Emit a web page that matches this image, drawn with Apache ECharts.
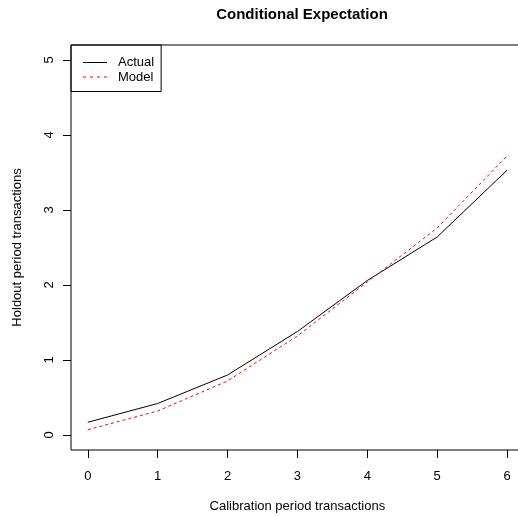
<!DOCTYPE html>
<html>
<head>
<meta charset="utf-8">
<script src="https://cdn.jsdelivr.net/npm/echarts@6/dist/echarts.min.js"></script>
<style>html,body{margin:0;padding:0;background:#fff;}#c{width:518px;height:516px;}</style>
</head>
<body>
<div id="c"></div>
<script>
const xValues = [0, 1, 2, 3, 4, 5, 6];
const actual = [0.17, 0.42, 0.80, 1.38, 2.06, 2.64, 3.53];
const model = [0.07, 0.32, 0.72, 1.32, 2.04, 2.76, 3.72];
const xTicks = [0, 1, 2, 3, 4, 5, 6];
const yTicks = [0, 1, 2, 3, 4, 5];

const font = 'Liberation Sans, Arial, Helvetica, sans-serif';
const solidIcon = 'path://M0,0h24v1h-24z';
const dashIcon = 'path://M0,0h3v1h-3zM7,0h3v1h-3zM14,0h3v1h-3zM21,0h3v1h-3z';
const chart = echarts.init(document.getElementById('c'));
chart.setOption({
  animation: false,
  backgroundColor: '#fff',
  title: {
    text: 'Conditional Expectation',
    left: 297, top: 2, textAlign: 'center',
    textStyle: {fontFamily: font, fontSize: 15, fontWeight: 'bold', color: '#000'}
  },
  legend: {
    orient: 'vertical', left: 71, top: 45,
    padding: [11, 7, 8, 12],
    borderColor: '#000', borderWidth: 1,
    itemWidth: 24, itemHeight: 14, itemGap: 1.5,
    textStyle: {fontFamily: font, fontSize: 13, color: '#000', padding: [0, 0, 0, 6]},
    data: [
      {name: 'Actual', icon: solidIcon, itemStyle: {color: '#000'}},
      {name: 'Model', icon: dashIcon, itemStyle: {color: '#ff0000'}}
    ]
  },
  grid: {
    left: 71, top: 45, width: 452.8, height: 405,
    outerBoundsMode: 'none', containLabel: false,
    show: true, borderColor: '#000', borderWidth: 1, backgroundColor: 'transparent'
  },
  xAxis: {
    type: 'value', min: -0.24, max: 6.24,
    name: 'Calibration period transactions', nameLocation: 'middle', nameGap: 50,
    nameTextStyle: {fontFamily: font, fontSize: 13, color: '#000'},
    axisLine: {show: false, onZero: false},
    splitLine: {show: false},
    axisTick: {show: true, inside: false, length: 8, lineStyle: {color: '#000'}, customValues: xTicks},
    axisLabel: {fontFamily: font, fontSize: 13, color: '#000', margin: 20, customValues: xTicks}
  },
  yAxis: {
    type: 'value', min: -0.2, max: 5.2,
    name: 'Holdout period transactions', nameLocation: 'middle', nameGap: 47,
    nameTextStyle: {fontFamily: font, fontSize: 13, color: '#000'},
    axisLine: {show: false, onZero: false},
    splitLine: {show: false},
    axisTick: {show: true, length: 8, lineStyle: {color: '#000'}, customValues: yTicks},
    axisLabel: {fontFamily: font, fontSize: 13, color: '#000', margin: 15, rotate: 90, customValues: yTicks}
  },
  series: [
    {
      name: 'Actual', type: 'line', symbol: 'none',
      data: xValues.map((x, i) => [x, actual[i]]),
      lineStyle: {color: '#000', width: 1},
      itemStyle: {color: '#000'}
    },
    {
      name: 'Model', type: 'line', symbol: 'none',
      data: xValues.map((x, i) => [x, model[i]]),
      lineStyle: {color: '#ff0000', width: 1, type: [3, 3]},
      itemStyle: {color: '#ff0000'}
    }
  ]
});
</script>
</body>
</html>
